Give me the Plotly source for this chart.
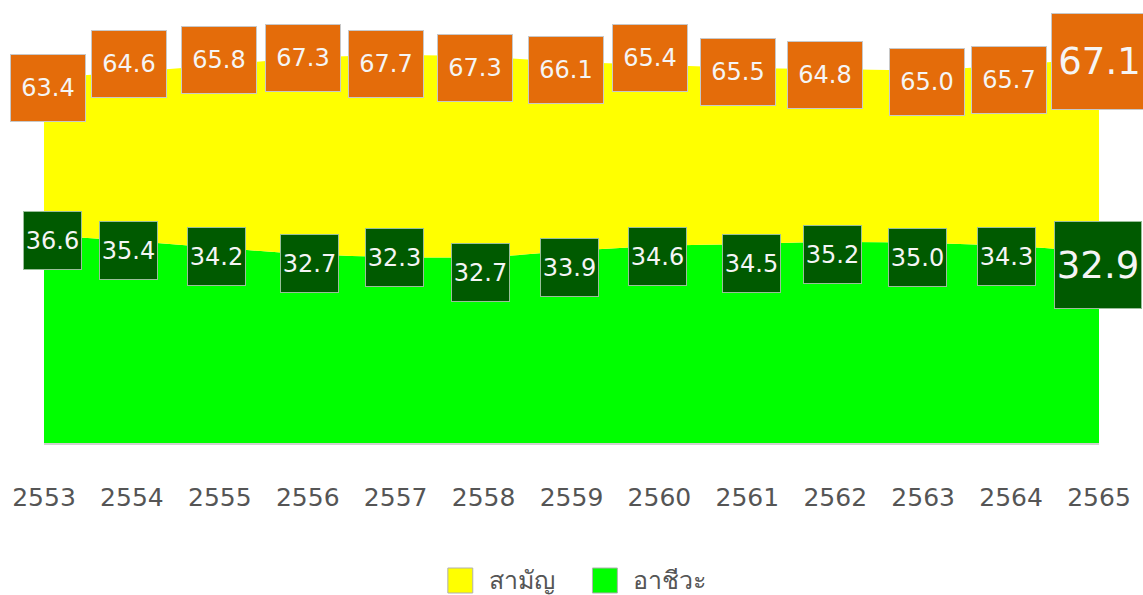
import plotly.graph_objects as go

# ---- data ----
years = [2553, 2554, 2555, 2556, 2557, 2558, 2559, 2560, 2561, 2562, 2563, 2564, 2565]
tick_labels = [str(y) for y in years]

# percentage labels
pct_saman = [63.4, 64.6, 65.8, 67.3, 67.7, 67.3, 66.1, 65.4, 65.5, 64.8, 65.0, 65.7, 67.1]
pct_achiwa = [36.6, 35.4, 34.2, 32.7, 32.3, 32.7, 33.9, 34.6, 34.5, 35.2, 35.0, 34.3, 32.9]

# stacked area heights (as drawn, chart units)
area_achiwa = [52.0, 50.5, 48.75, 47.25, 46.5, 46.5, 48.0, 49.25, 49.75, 50.25, 50.0, 49.25, 47.75]
area_saman = [39.25, 42.25, 45.75, 49.0, 50.5, 50.0, 47.25, 45.25, 44.0, 43.25, 43.25, 45.25, 48.5]

names = ["สามัญ", "อาชีวะ"]

# ---- styles ----
YELLOW = "#FFFF00"
GREEN = "#00FF00"
ORANGE = "#E46C0A"
DKGREEN = "#005A00"

# label offsets in pixels (style only)
o_dx = [4, -3, -1, -5, -10, -9, -6, -9, -9, -10, 4, -2, 0]
o_dy = [-10, 8, 5, 0, -9, -11, -8, 7, -4, -6, -12, -15, -3]
g_dx = [8, -3, -3, 2, -1, -3, -2, -2, 4, -3, -6, -5, -1]
g_dy = [-5, -9, -8, -9, 0, -15, -16, -10, -19, -12, -14, -10, -13]

fig = go.Figure()
fig.add_trace(go.Scatter(
    x=years, y=area_achiwa, name=names[1], stackgroup="one",
    mode="lines", line=dict(width=0, shape="spline", color=GREEN),
    fillcolor=GREEN, showlegend=False, hoverinfo="skip"))
fig.add_trace(go.Scatter(
    x=years, y=area_saman, name=names[0], stackgroup="one",
    mode="lines", line=dict(width=0, shape="spline", color=YELLOW),
    fillcolor=YELLOW, showlegend=False, hoverinfo="skip"))

annotations = []
n = len(years)
for i in range(n):
    last = (i == n - 1)
    top = area_achiwa[i] + area_saman[i]
    annotations.append(dict(
        x=years[i], y=top, xref="x", yref="y", showarrow=False,
        text=f"{pct_saman[i]:.1f}", xshift=o_dx[i], yshift=o_dy[i],
        font=dict(family="DejaVu Sans", size=37 if last else 24, color="#F5F5F5"),
        bgcolor=ORANGE, bordercolor="#C8C8C8", borderwidth=1, borderpad=0,
        width=95 if last else 74, height=95 if last else 66,
        xanchor="center", yanchor="middle"))
    annotations.append(dict(
        x=years[i], y=area_achiwa[i], xref="x", yref="y", showarrow=False,
        text=f"{pct_achiwa[i]:.1f}", xshift=g_dx[i], yshift=g_dy[i],
        font=dict(family="DejaVu Sans", size=37 if last else 24, color="#F5F5F5"),
        bgcolor=DKGREEN, bordercolor="#9ABF9A", borderwidth=1, borderpad=0,
        width=86 if last else 57, height=86 if last else 57,
        xanchor="center", yanchor="middle"))

# manual legend (paper coordinates)
L, R, T, B = 43, 42, 43, 152
PW, PH = 1143 - L - R, 595 - T - B


def px_x(px):
    return (px - L) / PW


def px_y(py):
    return (595 - B - py) / PH


shapes = []
legend_items = [(names[0], YELLOW, 448, 487), (names[1], GREEN, 593, 632)]
for label, col, sx, tx in legend_items:
    shapes.append(dict(type="rect", xref="paper", yref="paper",
                       x0=px_x(sx), x1=px_x(sx + 25), y0=px_y(593), y1=px_y(568),
                       fillcolor=col, line=dict(color="#B0B0B0", width=1)))
    annotations.append(dict(x=px_x(tx), y=px_y(579), xref="paper", yref="paper",
                            text=label, showarrow=False, xanchor="left", yanchor="middle",
                            font=dict(family="Noto Sans, DejaVu Sans", size=25, color="#555555")))

fig.update_layout(
    width=1143, height=595,
    margin=dict(l=L, r=R, t=T, b=B),
    plot_bgcolor="white", paper_bgcolor="white",
    showlegend=False,
    annotations=annotations, shapes=shapes,
    xaxis=dict(range=[years[0], years[-1]], tickvals=years, ticktext=tick_labels,
               showgrid=False, zeroline=False, showline=True, linecolor="#D0D0D0", linewidth=2,
               layer="above traces",
               ticks="outside", ticklen=31, tickcolor="rgba(0,0,0,0)",
               tickfont=dict(family="DejaVu Sans", size=25, color="#555555")),
    yaxis=dict(range=[0, 100], visible=False, showgrid=False, zeroline=False),
)

fig.write_html("out.html", config={"displayModeBar": False},
               post_script="document.body.style.margin='0px';document.body.style.overflow='hidden';")
